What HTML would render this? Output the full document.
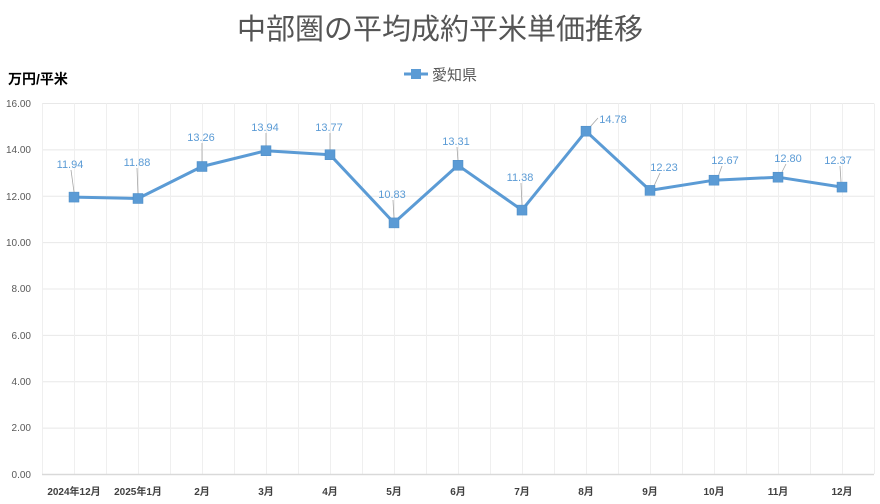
<!DOCTYPE html>
<html><head><meta charset="utf-8"><style>
body{margin:0;background:#fff;}
svg{display:block;font-family:"Liberation Sans","Noto Sans CJK JP",sans-serif;}
</style></head><body>
<svg width="880" height="504" viewBox="0 0 880 504">
<rect width="880" height="504" fill="#fff"/>
<text x="440" y="39" font-size="29" fill="#555" text-anchor="middle">中部圏の平均成約平米単価推移</text>
<text x="8" y="84" font-size="14" font-weight="bold" fill="#000">万円/平米</text>
<line x1="404" y1="74" x2="428" y2="74" stroke="#5b9bd5" stroke-width="3"/>
<rect x="411" y="69" width="10" height="10" fill="#5b9bd5"/>
<text x="432" y="80" font-size="15" fill="#595959">愛知県</text>
<g stroke="#e8e8e8" stroke-width="1">
<line x1="42" y1="103.5" x2="874" y2="103.5"/><line x1="42" y1="149.9" x2="874" y2="149.9"/><line x1="42" y1="196.3" x2="874" y2="196.3"/><line x1="42" y1="242.6" x2="874" y2="242.6"/><line x1="42" y1="289" x2="874" y2="289"/><line x1="42" y1="335.4" x2="874" y2="335.4"/><line x1="42" y1="381.8" x2="874" y2="381.8"/><line x1="42" y1="428.1" x2="874" y2="428.1"/>
</g>
<g stroke="#efefef" stroke-width="1" id="v"></g>
<script>
var g=document.getElementById('v');for(var i=0;i<=26;i++){var x=42.5+i*32;var l=document.createElementNS('http://www.w3.org/2000/svg','line');l.setAttribute('x1',x);l.setAttribute('x2',x);l.setAttribute('y1',103.5);l.setAttribute('y2',474);g.appendChild(l);}
</script>
<line x1="42" y1="474.5" x2="874" y2="474.5" stroke="#d9d9d9" stroke-width="1.5"/>
<g font-size="10" fill="#595959" text-anchor="end">
<text x="31" y="107">16.00</text><text x="31" y="153">14.00</text><text x="31" y="200">12.00</text><text x="31" y="246">10.00</text><text x="31" y="292">8.00</text><text x="31" y="339">6.00</text><text x="31" y="385">4.00</text><text x="31" y="431">2.00</text><text x="31" y="478">0.00</text>
</g>
<g font-size="10" fill="#404040" text-anchor="middle" font-weight="bold">
<text x="74" y="495">2024年12月</text><text x="138" y="495">2025年1月</text><text x="202" y="495">2月</text><text x="266" y="495">3月</text><text x="330" y="495">4月</text><text x="394" y="495">5月</text><text x="458" y="495">6月</text><text x="522" y="495">7月</text><text x="586" y="495">8月</text><text x="650" y="495">9月</text><text x="714" y="495">10月</text><text x="778" y="495">11月</text><text x="842" y="495">12月</text>
</g>
<g stroke="#a6a6a6" stroke-width="0.8">
<line x1="71" y1="170" x2="74" y2="192"/><line x1="137" y1="168" x2="138" y2="194"/><line x1="202" y1="143" x2="202" y2="162"/><line x1="266" y1="133" x2="266" y2="146"/><line x1="330" y1="133" x2="330" y2="150"/><line x1="393" y1="200" x2="394" y2="218"/><line x1="457" y1="147" x2="458" y2="161"/><line x1="521" y1="183" x2="522" y2="205"/><line x1="598" y1="118" x2="590" y2="127"/><line x1="660" y1="173" x2="654" y2="186"/><line x1="722" y1="166" x2="718" y2="177"/><line x1="786" y1="164" x2="781" y2="174"/><line x1="840" y1="166" x2="841" y2="182"/>
</g>
<polyline fill="none" stroke="#5b9bd5" stroke-width="3" stroke-linejoin="round" points="74,197.1 138,198.5 202,166.5 266,150.7 330,154.7 394,222.9 458,165.3 522,210.1 586,131.2 650,190.4 714,180.2 778,177.2 842,187.1"/>
<g fill="#5b9bd5" stroke="#4a8ac4" stroke-width="0.5">
<rect x="69" y="192.1" width="10" height="10"/><rect x="133" y="193.5" width="10" height="10"/><rect x="197" y="161.5" width="10" height="10"/><rect x="261" y="145.7" width="10" height="10"/><rect x="325" y="149.7" width="10" height="10"/><rect x="389" y="217.9" width="10" height="10"/><rect x="453" y="160.3" width="10" height="10"/><rect x="517" y="205.1" width="10" height="10"/><rect x="581" y="126.2" width="10" height="10"/><rect x="645" y="185.4" width="10" height="10"/><rect x="709" y="175.2" width="10" height="10"/><rect x="773" y="172.2" width="10" height="10"/><rect x="837" y="182.1" width="10" height="10"/>
</g>
<g font-size="11" fill="#5b9bd5" text-anchor="middle">
<text x="70" y="168">11.94</text><text x="137" y="166">11.88</text><text x="201" y="141">13.26</text><text x="265" y="131">13.94</text><text x="329" y="131">13.77</text><text x="392" y="198">10.83</text><text x="456" y="145">13.31</text><text x="520" y="181">11.38</text><text x="613" y="123">14.78</text><text x="664" y="171">12.23</text><text x="725" y="164">12.67</text><text x="788" y="162">12.80</text><text x="838" y="164">12.37</text>
</g>
</svg>
</body></html>
